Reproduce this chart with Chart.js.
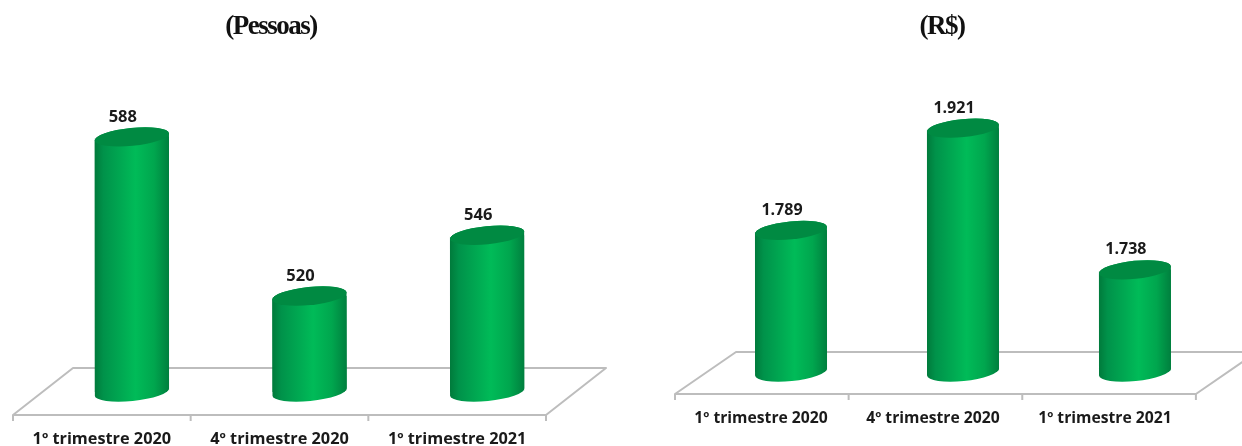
<!DOCTYPE html>
<html><head><meta charset="utf-8">
<script src="https://cdn.jsdelivr.net/npm/chart.js@4"></script>
<style>
html,body{margin:0;padding:0;background:#fff;width:1242px;height:446px;overflow:hidden}
canvas{position:absolute;top:0;filter:blur(.55px)}
.t{position:absolute;top:10px;font:bold 27px "Liberation Serif",serif;letter-spacing:-1.5px;color:#111;transform:translateX(-50%);filter:blur(.5px);white-space:nowrap}
</style></head><body>
<div class="t" style="left:271px">(Pessoas)</div>
<div class="t" style="left:942px">(R$)</div>
<canvas id="a" width="621" height="446" style="left:0"></canvas>
<canvas id="b" width="621" height="446" style="left:621px"></canvas>
<script>
const categories = ['1º trimestre 2020','4º trimestre 2020','1º trimestre 2021'];
const pessoas = [588,520,546];
const rendimento = [1789,1921,1738];

const FLOOR_DX = 30, RY = 9, TILT = -0.1, BAR_PCT = .42;

function bodyGradient(ctx, cx, w){
  const g = ctx.createLinearGradient(cx-w/2,0,cx+w/2,0);
  g.addColorStop(0,'#007a3b'); g.addColorStop(.12,'#00924a');
  g.addColorStop(.55,'#00bb58'); g.addColorStop(.8,'#00a64e'); g.addColorStop(1,'#007f3e');
  return g;
}
const cylinder = {
  id:'cylinder',
  beforeDatasetsDraw(c,_,o){
    const x=c.ctx, a=c.chartArea, top=a.bottom+o.frontDrop, back=a.bottom-o.backRise;
    const L=a.left-FLOOR_DX, R=a.right-FLOOR_DX+o.floorExtra, step=(R-L)/3;
    x.save();
    x.strokeStyle='#bdbdbd'; x.lineWidth=2; x.lineJoin='round';
    x.beginPath(); x.moveTo(L,top); x.lineTo(L+o.depth,back); x.lineTo(R+o.depth,back); x.lineTo(R,top); x.closePath(); x.stroke();
    for(let i=0;i<=3;i++){ x.beginPath(); x.moveTo(L+i*step,top); x.lineTo(L+i*step,top+6); x.stroke(); }
    x.restore();
  },
  beforeDatasetDraw(c){
    const x=c.ctx; x.save();
    const m=c.getDatasetMeta(0);
    x.beginPath();
    m.data.forEach(el=>{
      const w=el.width/2;
      x.moveTo(el.x-w,el.y);
      x.ellipse(el.x,el.y,w,RY,TILT,Math.PI,0,false);
      x.lineTo(el.x+w,el.base);
      x.ellipse(el.x,el.base,w,RY,TILT,0,Math.PI,false);
      x.closePath();
    });
    x.clip();
    m.data.forEach(el=>{
      x.fillStyle=bodyGradient(x,el.x,el.width);
      x.fillRect(el.x-el.width/2,el.y-RY-6,el.width,el.base-el.y+2*RY+12);
    });
  },
  afterDatasetDraw(c,_,o){
    const x=c.ctx; x.restore(); x.save();
    const m=c.getDatasetMeta(0), v=c.data.datasets[0].data;
    m.data.forEach((el,i)=>{
      x.fillStyle='#008a42';
      x.beginPath(); x.ellipse(el.x,el.y,el.width/2,RY,TILT,0,Math.PI*2); x.fill();
      x.fillStyle='#1a1a1a'; x.font=o.font; x.textAlign='center'; x.textBaseline='middle';
      x.fillText(v[i].toLocaleString('pt-BR'),el.x-9,el.y-20);
    });
    x.restore();
  }
};
function make(id,values,min,max,pad,opt,fontSize){
  new Chart(document.getElementById(id),{
    type:'bar',
    data:{labels:categories,datasets:[{data:values,base:min,barPercentage:BAR_PCT,categoryPercentage:1,
      backgroundColor:ctx=>{
        const s=ctx.chart.scales.x;
        if(!s||ctx.dataIndex===undefined) return '#00a64e';
        const cx=s.getPixelForValue(ctx.dataIndex), w=s.width/3*BAR_PCT;
        if(!isFinite(cx)||!isFinite(w)||w<=0) return '#00a64e';
        return bodyGradient(ctx.chart.ctx,cx,w);
      },borderWidth:0}]},
    options:{responsive:false,animation:false,layout:{padding:pad},
      plugins:{legend:{display:false},tooltip:{enabled:false},cylinder:opt},
      scales:{
        y:{display:false,min,max},
        x:{grid:{display:false,drawTicks:false},border:{display:false},
           afterFit(s){s.height=54;},
           ticks:{autoSkip:false,maxRotation:0,minRotation:0,padding:opt.tickPad,labelOffset:-FLOOR_DX,color:'#1a1a1a',
                  font:{family:'Open Sans',weight:'bold',size:fontSize}}}
      }},
    plugins:[cylinder]
  });
}
make('a',pessoas,479,620,{left:43,right:45,top:62,bottom:0},
  {frontDrop:23,backRise:24,depth:60,floorExtra:0,tickPad:38,font:'bold 16.5px "Open Sans"'},16.3);
make('b',rendimento,1606,2000,{left:84,right:20,top:67,bottom:20},
  {frontDrop:22,backRise:20,depth:61,floorExtra:5,tickPad:37,font:'bold 16px "Open Sans"'},15.7);
</script>
</body></html>
